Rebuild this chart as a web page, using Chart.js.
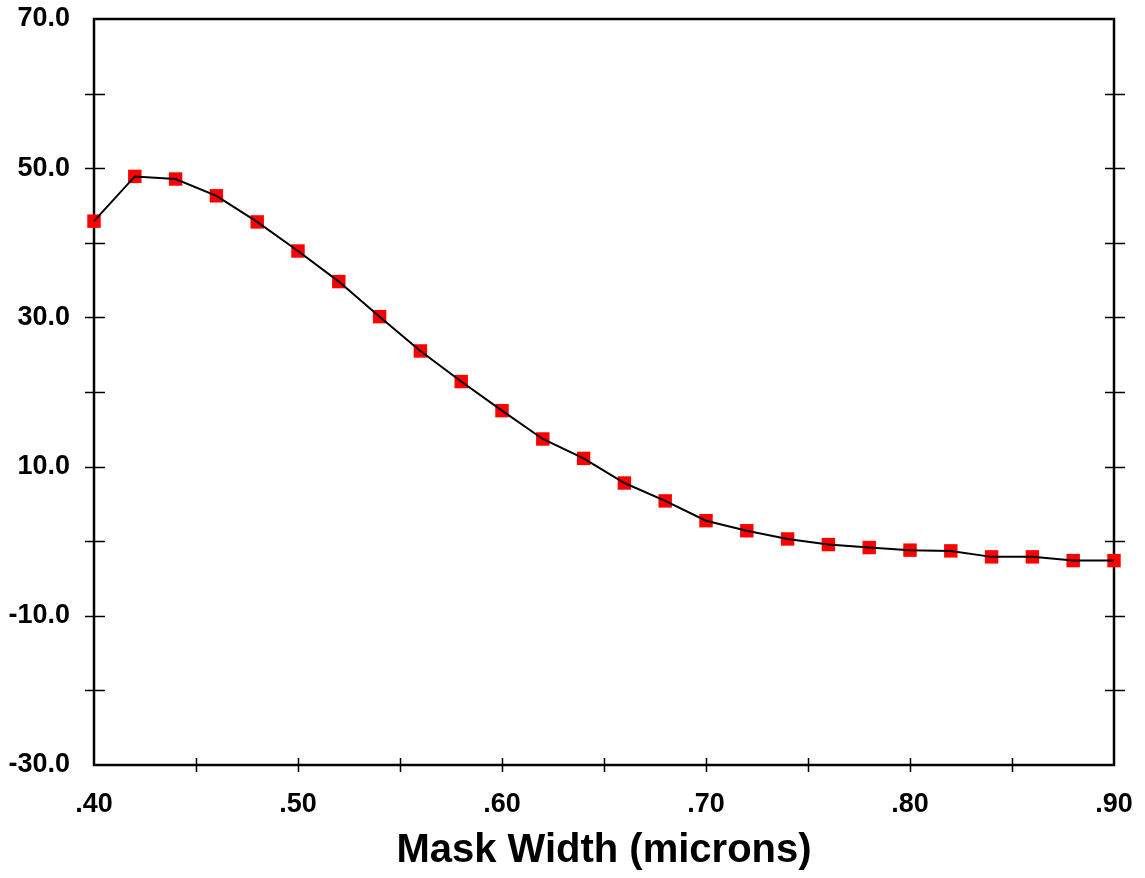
<!DOCTYPE html>
<html>
<head>
<meta charset="utf-8">
<script src="https://cdn.jsdelivr.net/npm/chart.js@4"></script>
<style>
  html, body { margin: 0; padding: 0; background: #fff; }
</style>
</head>
<body>
<canvas id="chart-canvas" width="1145" height="878"></canvas>
<script>
// mask width (microns)
const maskWidths = [0.40, 0.42, 0.44, 0.46, 0.48, 0.50, 0.52, 0.54, 0.56, 0.58,
  0.60, 0.62, 0.64, 0.66, 0.68, 0.70, 0.72, 0.74, 0.76, 0.78,
  0.80, 0.82, 0.84, 0.86, 0.88, 0.90];
const values = [42.9, 48.9, 48.55, 46.3, 42.8, 38.9, 34.8, 30.1, 25.5, 21.4,
  17.5, 13.7, 11.1, 7.8, 5.4, 2.75, 1.4, 0.3, -0.45, -0.85,
  -1.2, -1.3, -2.1, -2.1, -2.6, -2.6];
const yLabels = [70, 50, 30, 10, -10, -30];
const xLabels = [0.4, 0.5, 0.6, 0.7, 0.8, 0.9];

const points = maskWidths.map((w, i) => ({ x: w, y: values[i] }));

const FONT = "Arial, 'Liberation Sans', Helvetica, sans-serif";

// frame + ticks crossing the axes (drawn under the markers)
const framePlugin = {
  id: "frame",
  beforeDatasetsDraw(chart) {
    const ctx = chart.ctx;
    const { left, right, top, bottom } = chart.chartArea;
    const xs = chart.scales.x;
    const ys = chart.scales.y;
    ctx.save();
    ctx.strokeStyle = "#000";
    ctx.lineWidth = 1.5;
    ctx.beginPath();
    ys.ticks.forEach(t => {
      if (t.value <= ys.min || t.value >= ys.max) return;
      const py = Math.round(ys.getPixelForValue(t.value)) + 0.5;
      ctx.moveTo(left - 9, py); ctx.lineTo(left + 11, py);
      ctx.moveTo(right - 9, py); ctx.lineTo(right + 11, py);
    });
    xs.ticks.forEach(t => {
      if (t.value <= xs.min + 1e-6 || t.value >= xs.max - 1e-6) return;
      const px = Math.round(xs.getPixelForValue(t.value)) + 0.5;
      ctx.moveTo(px, bottom - 7); ctx.lineTo(px, bottom + 7);
    });
    ctx.stroke();
    ctx.lineWidth = 2.5;
    ctx.strokeRect(left, top, right - left, bottom - top);
    ctx.restore();
  }
};

const config = {
  type: "scatter",
  data: {
    datasets: [
      {
        label: "line",
        data: points,
        showLine: true,
        borderColor: "#000",
        borderWidth: 2,
        pointRadius: 0,
        fill: false,
        clip: false,
        order: 0,
      },
      {
        label: "markers",
        data: points,
        showLine: false,
        pointStyle: "rect",
        pointRadius: 9.5,
        pointBorderWidth: 0,
        pointBackgroundColor: "#ff0000",
        borderColor: "#ff0000",
        clip: false,
        order: 1,
      },
    ],
  },
  options: {
    responsive: false,
    animation: false,
    layout: { padding: { top: 19, right: 31, left: 0, bottom: 0 } },
    plugins: {
      legend: { display: false },
      tooltip: { enabled: false },
    },
    scales: {
      x: {
        type: "linear",
        min: 0.4,
        max: 0.9,
        grid: { display: false, drawTicks: false },
        border: { display: false },
        ticks: {
          stepSize: 0.05,
          autoSkip: false,
          maxRotation: 0,
          padding: 23,
          color: "#000",
          font: { family: FONT, size: 27, weight: "bold" },
          callback: (v) => {
            const n = Math.round(v * 100);
            return xLabels.some(l => Math.round(l * 100) === n) ? "." + n : "";
          },
        },
        title: {
          display: true,
          text: "Mask Width (microns)",
          color: "#000",
          font: { family: FONT, size: 40, weight: "bold" },
          padding: { top: 0, bottom: 3 },
        },
        afterFit: (s) => {
          s.height = 113;
          s.paddingLeft = 0;
          s.paddingRight = 0;
        },
      },
      y: {
        min: -30,
        max: 70,
        grid: { display: false, drawTicks: false },
        border: { display: false },
        ticks: {
          stepSize: 10,
          autoSkip: false,
          padding: 24,
          color: "#000",
          font: { family: FONT, size: 27, weight: "bold" },
          callback: (v) => (yLabels.includes(v) ? v.toFixed(1) : ""),
        },
        afterFit: (s) => {
          s.width = 94;
          s.paddingTop = 0;
          s.paddingBottom = 0;
        },
      },
    },
  },
  plugins: [framePlugin],
};

const myChart = new Chart(document.getElementById("chart-canvas"), config);
</script>
</body>
</html>
